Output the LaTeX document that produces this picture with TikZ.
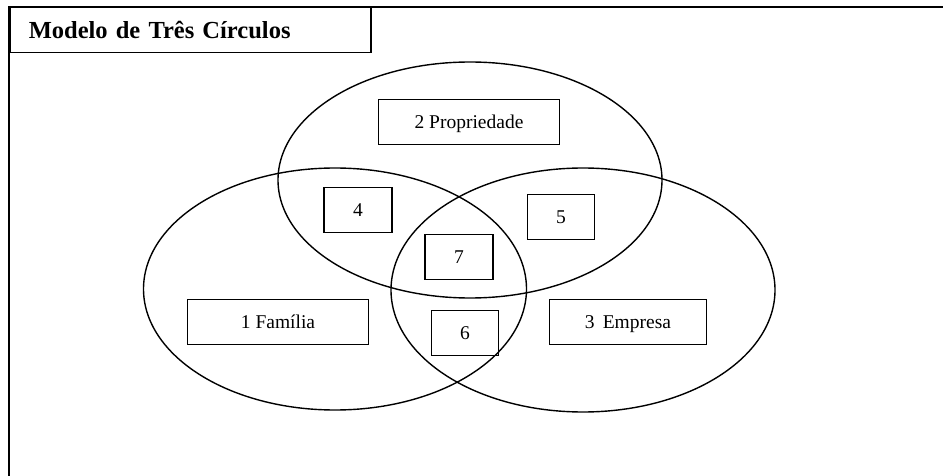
\documentclass[tikz,border=0pt]{standalone}
\usepackage{fontspec}
\setmainfont{Liberation Serif}
\usepackage{tikz}
\usetikzlibrary{positioning,shapes.geometric}
\tikzset{
  frameline/.style={line width=1.5pt},
  ring/.style={ellipse, draw, line width=1.4pt, inner sep=0pt},
  labelbox/.style={rectangle, draw, line width=1.4pt, minimum height=45pt,
                   inner sep=0pt, text height=15pt, text depth=2pt,
                   font=\fontsize{19.5}{22}\selectfont},
  numbox/.style={labelbox, minimum width=68pt},
  titlebox/.style={rectangle, draw, line width=1.5pt, anchor=north west,
                   minimum height=45pt, text width=323pt, inner xsep=19pt,
                   align=left, font=\fontsize{24.5}{28}\selectfont\bfseries}
}
\begin{document}
\begin{tikzpicture}[x=1pt,y=-1pt]
  \useasboundingbox (0,0) rectangle (943,476);

  % ===== Outer frame and title =====
  \coordinate (fr-tr) at (943,7);
  \coordinate (fr-tl) at (9,7);
  \coordinate (fr-bl) at (9,476);
  \draw[frameline] (fr-tr) -- (fr-tl) -- (fr-bl);
  \node[titlebox, minimum width=361pt] (title) at (9,7) {Modelo de Três Círculos};

  % ===== The three circles =====
  \node[ring, minimum width=384pt, minimum height=236pt] (prop-c) at (470,180) {};
  \node[ring, minimum width=383pt, minimum height=242pt] (fam-c)  at (335,289) {};
  \node[ring, minimum width=384pt, minimum height=244pt] (emp-c)  at (583,290) {};

  % ===== Labels of the sectors =====
  \node[labelbox, minimum width=181pt] (prop) at (469,122) {2 Propriedade};
  \node[labelbox, minimum width=181pt] (fam)  at (278,322) {1 Família};
  \node[labelbox, minimum width=157pt] (emp)  at (628,322) {3\, Empresa};

  % overlaps
  \node[numbox] (s4) at (358,210) {4};
  \node[numbox, minimum width=67pt] (s5) at (561,217) {5};
  \node[numbox] (s7) at (459,257) {7};
  \node[numbox, minimum width=67pt] (s6) at (465,333) {6};

\end{tikzpicture}
\end{document}
